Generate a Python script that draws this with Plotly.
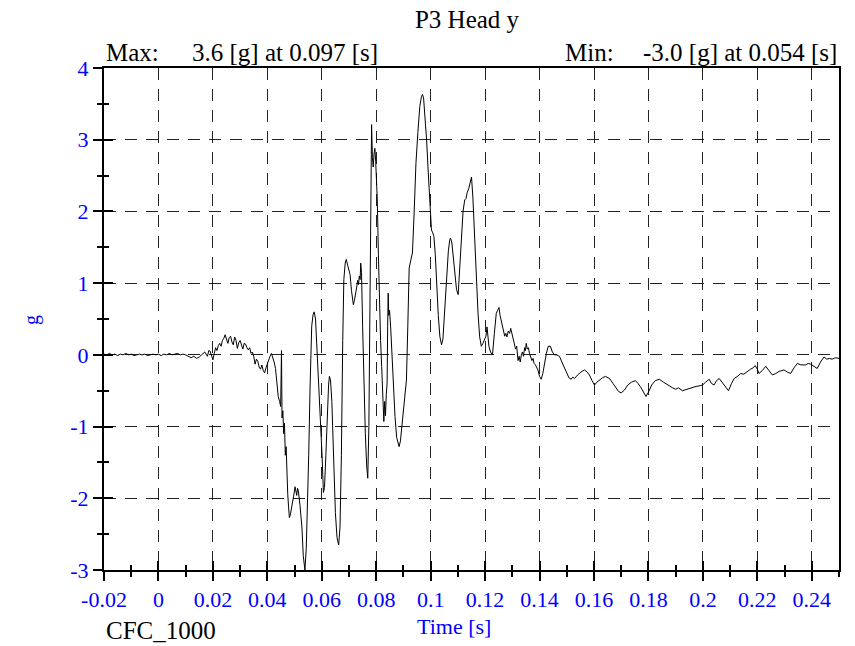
import plotly.graph_objects as go

# ---------------- data ----------------
time_s = [
    -0.020, -0.019, -0.018, -0.017, -0.016, -0.015, -0.014, -0.013, -0.012, -0.011,
    -0.010, -0.009, -0.008, -0.007, -0.006, -0.005, -0.004, -0.003, -0.002, -0.001,
    0.000, 0.001, 0.002, 0.003, 0.004, 0.005, 0.006, 0.007, 0.008, 0.009,
    0.010, 0.011, 0.012, 0.013, 0.014, 0.015, 0.016, 0.017, 0.018,
    0.0185, 0.019, 0.0195, 0.020, 0.0205, 0.021, 0.0215, 0.022, 0.0225, 0.023,
    0.0235, 0.024, 0.0245, 0.025, 0.0255, 0.026, 0.0265, 0.027, 0.0275, 0.028,
    0.0285, 0.029, 0.0295, 0.030, 0.0305, 0.031, 0.0315, 0.032, 0.0325, 0.033,
    0.0335, 0.034, 0.0345, 0.035, 0.0355, 0.036, 0.0365, 0.037, 0.0375, 0.038,
    0.0385, 0.039, 0.0395, 0.040, 0.0405, 0.041, 0.0415, 0.042, 0.0425, 0.043,
    0.0435, 0.044, 0.0445,
    0.0449, 0.0452, 0.0454, 0.0457, 0.0460, 0.0463, 0.0466, 0.0469, 0.0472, 0.0475,
    0.0478, 0.0481, 0.0485, 0.0490, 0.0496, 0.0502, 0.0505, 0.0508, 0.0511, 0.0514,
    0.0520, 0.0527, 0.0532, 0.0538, 0.0543, 0.0547, 0.0552, 0.0557, 0.0563, 0.0568,
    0.0572, 0.0577, 0.0582, 0.0588, 0.0596, 0.0601, 0.0606, 0.0610, 0.0615, 0.0620,
    0.0625, 0.0628, 0.0632, 0.0637, 0.0643, 0.0650, 0.0656, 0.0662, 0.0667, 0.0672,
    0.0677, 0.0681, 0.0686, 0.0690, 0.0695, 0.0700, 0.0704, 0.0709, 0.0713, 0.0716,
    0.0720, 0.0725, 0.0729, 0.0732, 0.0735, 0.0738, 0.0741, 0.0743, 0.0746, 0.0750,
    0.0755, 0.0760, 0.0765, 0.0769, 0.0773, 0.0777, 0.0780, 0.0783, 0.0786, 0.0789,
    0.0792, 0.0795, 0.0798, 0.0801, 0.0804, 0.0808, 0.0811, 0.0816, 0.0820, 0.0825,
    0.0828, 0.0831, 0.0834, 0.0837, 0.0840, 0.0842, 0.0844, 0.0846, 0.0849, 0.0853,
    0.0858, 0.0864, 0.0869, 0.0875, 0.0880, 0.0884, 0.0889, 0.0894, 0.0899, 0.0905,
    0.0911, 0.0916, 0.0921, 0.0927, 0.0933, 0.0939, 0.0946, 0.0953, 0.0960, 0.0966,
    0.0970, 0.0974, 0.0979, 0.0985, 0.0991, 0.0997, 0.1003, 0.1008, 0.1012, 0.1017,
    0.1021, 0.1028, 0.1034, 0.1040, 0.1045, 0.1051, 0.1058, 0.1065, 0.1070, 0.1073,
    0.1078, 0.1082, 0.1089, 0.1095, 0.1101, 0.1107, 0.1113, 0.1119, 0.1125, 0.1130,
    0.1134, 0.1140, 0.1145, 0.1150, 0.1155, 0.1162, 0.1168, 0.1174, 0.1180, 0.1186,
    0.1192, 0.1198, 0.1203, 0.1207, 0.1210, 0.1214, 0.1220, 0.1227, 0.1234, 0.1241,
    0.1246, 0.1251, 0.1255, 0.1260, 0.1264, 0.1268, 0.1272, 0.1276, 0.1280, 0.1285,
    0.1290, 0.1294, 0.1298, 0.1303, 0.1308, 0.1312, 0.1316, 0.1321, 0.1325, 0.1329,
    0.1333, 0.1337, 0.1341, 0.1345, 0.1348, 0.1351, 0.1355, 0.1359, 0.1363, 0.1368,
    0.1372, 0.1376, 0.1380, 0.1385, 0.1390, 0.1394, 0.1400, 0.1406, 0.1412, 0.1418,
    0.1425, 0.1432, 0.1440, 0.1447, 0.1455, 0.1463, 0.1473, 0.1482, 0.1492, 0.1500,
    0.1508, 0.1516, 0.1522, 0.1528, 0.1534, 0.1540, 0.1552, 0.1565, 0.1575, 0.1583,
    0.1593, 0.1602, 0.1611, 0.1620, 0.1631, 0.1642, 0.1650, 0.1657, 0.1670, 0.1681,
    0.1690, 0.1700, 0.1712, 0.1724, 0.1738, 0.1752, 0.1762, 0.1773, 0.1782, 0.1791,
    0.1800, 0.1812, 0.1825, 0.1840, 0.1855, 0.1870, 0.1889, 0.1900, 0.1910, 0.1925,
    0.1940, 0.1950, 0.1962, 0.1975, 0.1990, 0.1999, 0.2010, 0.2023, 0.2032, 0.2041,
    0.2050, 0.2060, 0.2070, 0.2082, 0.2094, 0.2105, 0.2115, 0.2127, 0.2139, 0.2150,
    0.2163, 0.2175, 0.2185, 0.2192, 0.2200, 0.2206, 0.2218, 0.2231, 0.2243, 0.2255,
    0.2268, 0.2280, 0.2290, 0.2298, 0.2310, 0.2322, 0.2335, 0.2347, 0.2360, 0.2377,
    0.2387, 0.2396, 0.2408, 0.2420, 0.2432, 0.2445, 0.2455, 0.2465, 0.2475, 0.2487,
    0.2500,
]

accel_g = [
    0.01, 0.00, 0.02, 0.00, 0.01, -0.01, 0.01, 0.00, 0.02, 0.00,
    0.01, -0.01, 0.00, 0.01, 0.00, 0.01, -0.01, 0.00, 0.01, 0.00,
    0.01, -0.01, 0.01, 0.00, 0.02, 0.00, 0.01, 0.02, 0.00, 0.01,
    0.00, -0.02, -0.04, -0.02, -0.05, -0.03, 0.01, 0.04, -0.02,
    0.06, 0.05, -0.03, -0.07, 0.02, 0.10, 0.06, 0.13, 0.16, 0.12,
    0.20, 0.23, 0.28, 0.20, 0.16, 0.24, 0.26, 0.18, 0.14, 0.25,
    0.20, 0.09, 0.17, 0.20, 0.13, 0.08, 0.16, 0.15, 0.10, 0.07,
    0.10, 0.02, 0.04, -0.02, -0.13, -0.06, -0.09, -0.17, -0.20, -0.14,
    -0.22, -0.25, -0.18, -0.12, -0.06, -0.02, 0.02, -0.03, -0.10, -0.19,
    -0.35, -0.58, -0.65,
    -0.72, 0.06, -0.88, -0.78, -1.10, -0.95, -1.40, -1.28, -1.72, -1.95,
    -2.12, -2.27, -2.22, -2.08, -1.98, -1.84, -1.90, -1.96, -1.86, -1.90,
    -2.10, -2.40, -2.80, -3.00, -2.70, -2.20, -1.40, -0.45, 0.40, 0.56,
    0.60, 0.50, 0.12, -0.35, -0.86, -1.40, -1.92, -1.85, -1.40, -0.80,
    -0.42, -0.30, -0.35, -0.65, -1.40, -2.20, -2.55, -2.65, -2.40, -1.40,
    0.20, 1.05, 1.28, 1.33, 1.25, 1.18, 1.12, 0.90, 0.75, 0.70,
    0.76, 0.92, 0.96, 1.04, 0.98, 1.10, 1.05, 1.28, 1.15, 0.40,
    -0.50, -1.10, -1.55, -1.72, -1.00, 0.60, 2.20, 3.21, 2.75, 2.62,
    2.80, 2.88, 2.70, 2.50, 2.16, 1.40, 0.77, 0.20, -0.16, -0.70,
    -0.93, -0.65, -0.85, -0.55, -0.39, 0.40, 0.86, 0.55, 0.62, 0.39,
    0.00, -0.55, -0.86, -1.15, -1.22, -1.28, -1.20, -1.00, -0.81, -0.60,
    -0.35, 0.40, 1.21, 1.32, 1.42, 1.95, 2.68, 3.10, 3.46, 3.60,
    3.63, 3.58, 3.35, 3.00, 2.55, 2.21, 1.74, 1.70, 1.65, 1.40,
    1.05, 0.55, 0.25, 0.14, 0.22, 0.62, 1.05, 1.45, 1.60, 1.63,
    1.56, 1.42, 1.10, 0.91, 0.84, 1.25, 1.74, 2.00, 2.16, 2.18,
    2.26, 2.32, 2.40, 2.48, 2.20, 1.51, 1.00, 0.58, 0.25, 0.12,
    0.16, 0.21, 0.26, 0.39, 0.30, 0.12, 0.04, 0.00, 0.30, 0.58,
    0.62, 0.66, 0.55, 0.45, 0.38, 0.32, 0.26, 0.30, 0.25, 0.33,
    0.30, 0.37, 0.30, 0.24, 0.16, 0.08, 0.12, -0.08, -0.02, -0.10,
    0.00, 0.04, -0.02, 0.10, 0.06, 0.16, 0.08, 0.10, 0.02, -0.03,
    -0.08, -0.05, -0.12, -0.14, -0.18, -0.21, -0.30, -0.34, -0.26, -0.10,
    0.02, 0.12, 0.12, 0.04, 0.00, 0.00, -0.02, -0.10, -0.19, -0.27,
    -0.32, -0.34, -0.31, -0.33, -0.30, -0.28, -0.24, -0.21, -0.24, -0.28,
    -0.36, -0.42, -0.38, -0.35, -0.32, -0.30, -0.32, -0.33, -0.40, -0.46,
    -0.51, -0.53, -0.49, -0.42, -0.38, -0.36, -0.40, -0.46, -0.53, -0.58,
    -0.52, -0.42, -0.36, -0.34, -0.38, -0.42, -0.46, -0.48, -0.46, -0.50,
    -0.48, -0.47, -0.46, -0.44, -0.43, -0.42, -0.38, -0.34, -0.40, -0.42,
    -0.36, -0.33, -0.38, -0.44, -0.50, -0.40, -0.33, -0.30, -0.26, -0.27,
    -0.23, -0.20, -0.18, -0.15, -0.20, -0.26, -0.22, -0.16, -0.22, -0.28,
    -0.26, -0.23, -0.22, -0.21, -0.24, -0.26, -0.18, -0.12, -0.14, -0.14,
    -0.12, -0.13, -0.16, -0.19, -0.10, -0.03, -0.06, -0.05, -0.06, -0.04,
    -0.05,
]

x_tick_vals = [-0.02, 0, 0.02, 0.04, 0.06, 0.08, 0.1, 0.12, 0.14, 0.16, 0.18, 0.2, 0.22, 0.24]
x_tick_text = ["-0.02", "0", "0.02", "0.04", "0.06", "0.08", "0.1", "0.12", "0.14",
               "0.16", "0.18", "0.2", "0.22", "0.24"]
y_tick_vals = [-3, -2, -1, 0, 1, 2, 3, 4]
y_tick_text = ["-3", "-2", "-1", "0", "1", "2", "3", "4"]

title_text = "P3 Head y"
max_label = "Max:"
max_text = "3.6 [g] at 0.097 [s]"
min_label = "Min:"
min_text = "-3.0 [g] at 0.054 [s]"
filter_text = "CFC_1000"
x_title = "Time [s]"
y_title = "g"

# ---------------- figure ----------------
FONT = "Liberation Serif"
BLUE = "#0000FF"
X_RANGE = [-0.02, 0.25]
Y_RANGE = [-3, 4]

fig = go.Figure()
fig.add_trace(go.Scatter(x=time_s, y=accel_g, mode="lines",
                         line=dict(color="black", width=1),
                         showlegend=False, hoverinfo="skip"))
# empty trace so the overlay axes (inside half of crossing ticks) are drawn
fig.add_trace(go.Scatter(x=[], y=[], xaxis="x2", yaxis="y2", showlegend=False))

grid_common = dict(showgrid=True, gridcolor="#222222", gridwidth=1, griddash="12px,9px",
                   zeroline=False)

fig.update_layout(
    width=855, height=646,
    margin=dict(l=104, r=16, t=68, b=76),
    paper_bgcolor="white", plot_bgcolor="white",
    font=dict(family=FONT, size=22, color="black"),
    showlegend=False,
    title=dict(text=title_text, x=467 / 855, y=1 - 19 / 646, xanchor="center",
               yanchor="middle", xref="container", yref="container",
               font=dict(family=FONT, size=25, color="black")),
    xaxis=dict(range=X_RANGE, tickmode="array", tickvals=x_tick_vals, ticktext=x_tick_text,
               ticks="outside", ticklen=9, tickwidth=1.5, tickcolor="black",
               showline=True, mirror=True, linecolor="black", linewidth=2,
               tickfont=dict(family=FONT, size=22, color=BLUE),
               minor=dict(tick0=-0.02, dtick=0.01, ticks="outside", ticklen=5,
                          tickwidth=1.5, tickcolor="black", showgrid=False),
               **grid_common),
    yaxis=dict(range=Y_RANGE, tickmode="array", tickvals=y_tick_vals, ticktext=y_tick_text,
               ticks="outside", ticklen=9, tickwidth=1.5, tickcolor="black",
               showline=True, mirror=True, linecolor="black", linewidth=2,
               tickfont=dict(family=FONT, size=22, color=BLUE),
               minor=dict(tick0=-3, dtick=0.5, ticks="outside", ticklen=5,
                          tickwidth=1.5, tickcolor="black", showgrid=False),
               **grid_common),
    xaxis2=dict(range=X_RANGE, overlaying="x", side="bottom", anchor="y2",
                tickmode="array", tickvals=x_tick_vals, showticklabels=False,
                ticks="inside", ticklen=9, tickwidth=1.5, tickcolor="black",
                minor=dict(tick0=-0.02, dtick=0.01, ticks="inside", ticklen=5,
                           tickwidth=1.5, tickcolor="black", showgrid=False),
                showgrid=False, zeroline=False, showline=False),
    yaxis2=dict(range=Y_RANGE, overlaying="y", side="left", anchor="x2",
                tickmode="array", tickvals=y_tick_vals, showticklabels=False,
                ticks="inside", ticklen=9, tickwidth=1.5, tickcolor="black",
                minor=dict(tick0=-3, dtick=0.5, ticks="inside", ticklen=5,
                           tickwidth=1.5, tickcolor="black", showgrid=False),
                showgrid=False, zeroline=False, showline=False),
)

ann_font = dict(family=FONT, size=25, color="black")
fig.add_annotation(text=max_label, xref="paper", yref="paper", x=0, y=(570 - 52) / 502,
                   xanchor="left", yanchor="middle", showarrow=False, font=ann_font)
fig.add_annotation(text=max_text, xref="paper", yref="paper", x=(190 - 104) / 735,
                   y=(570 - 52) / 502, xanchor="left", yanchor="middle", showarrow=False,
                   font=ann_font)
fig.add_annotation(text=min_label, xref="paper", yref="paper", x=(563 - 104) / 735,
                   y=(570 - 52) / 502, xanchor="left", yanchor="middle", showarrow=False,
                   font=ann_font)
fig.add_annotation(text=min_text, xref="paper", yref="paper", x=1, y=(570 - 52) / 502,
                   xanchor="right", yanchor="middle", showarrow=False, font=ann_font)
fig.add_annotation(text=filter_text, xref="paper", yref="paper", x=0, y=(570 - 630) / 502,
                   xanchor="left", yanchor="middle", showarrow=False, font=ann_font)
fig.add_annotation(text=x_title, xref="paper", yref="paper", x=(454 - 104) / 735,
                   y=(570 - 626) / 502, xanchor="center", yanchor="middle", showarrow=False,
                   font=dict(family=FONT, size=22, color=BLUE))
fig.add_annotation(text=y_title, xref="paper", yref="paper", x=(31 - 104) / 735,
                   y=(570 - 320) / 502, xanchor="center", yanchor="middle", showarrow=False,
                   textangle=-90, font=dict(family=FONT, size=20, color=BLUE))

# remove the page's default body margin so the 855x646 figure sits at the window origin
fig.write_html("out.html",
               config={"displayModeBar": False},
               post_script="document.body.style.margin='0';document.body.style.overflow='hidden';")
